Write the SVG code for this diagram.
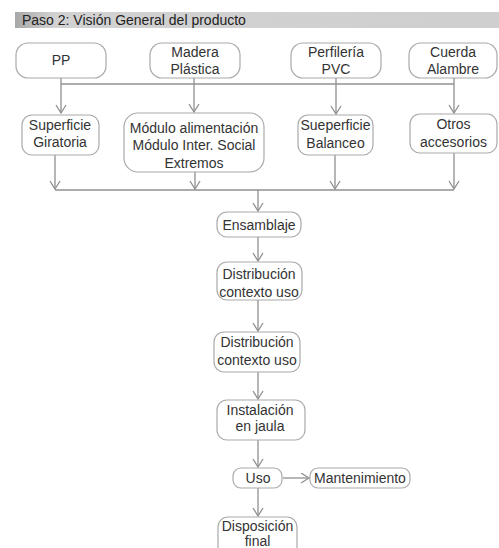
<svg xmlns="http://www.w3.org/2000/svg" width="499" height="548" viewBox="0 0 499 548">
<style>
.box{fill:#fff;stroke:#aaaaaa;stroke-width:1.2}
.t{font-family:"Liberation Sans",Arial,sans-serif;font-size:14px;fill:#333;text-anchor:middle}
.ln{fill:none;stroke:#909090;stroke-width:1.3}
.ar{fill:none;stroke:#909090;stroke-width:1.3;marker-end:url(#ah)}
</style>
<defs>
<linearGradient id="bar" x1="0" y1="0" x2="1" y2="0">
<stop offset="0" stop-color="#a8a8a8"/>
<stop offset="0.08" stop-color="#d2d2d2"/>
<stop offset="1" stop-color="#cfcfcf"/>
</linearGradient>
<marker id="ah" markerUnits="userSpaceOnUse" markerWidth="12" markerHeight="12" refX="9" refY="5.5" orient="auto">
<path d="M1,0.5 L9,5.5 L1,10.5" fill="none" stroke="#909090" stroke-width="1.3"/>
</marker>
</defs>
<rect width="499" height="548" fill="#fff"/>
<g id="title">
<rect x="15" y="12" width="484" height="16" fill="url(#bar)"/>
<text x="22" y="24.5" font-family="Liberation Sans,Arial,sans-serif" font-size="14" fill="#222">Paso 2: Visión General del producto</text>
</g>
<g id="connectors">
<path class="ln" d="M61,84 H454"/>
<path class="ar" d="M61,78 V113"/>
<path class="ar" d="M194,78 V112"/>
<path class="ar" d="M336,78 V114"/>
<path class="ar" d="M454,78 V113"/>
<path class="ln" d="M55,190 H454"/>
<path class="ar" d="M55,155 V189"/>
<path class="ar" d="M195,172 V189"/>
<path class="ar" d="M335,155 V189"/>
<path class="ar" d="M454,153 V189"/>
<path class="ar" d="M258,190 V211"/>
<path class="ar" d="M258,237 V261"/>
<path class="ar" d="M258,300 V331"/>
<path class="ar" d="M258,372 V399"/>
<path class="ar" d="M258,440 V467"/>
<path class="ar" d="M283,478 H309"/>
<path class="ar" d="M258,488 V516"/>
</g>
<g id="n-pp"><rect class="box" x="16" y="43" width="90" height="35" rx="12"/><text class="t" x="61" y="65">PP</text></g>
<g id="n-madera"><rect class="box" x="150" y="43" width="90" height="35" rx="12"/><text class="t" x="195" y="57">Madera</text><text class="t" x="195" y="74">Plástica</text></g>
<g id="n-perfileria"><rect class="box" x="291" y="43" width="90" height="35" rx="12"/><text class="t" x="336" y="57">Perfilería</text><text class="t" x="336" y="74">PVC</text></g>
<g id="n-cuerda"><rect class="box" x="409" y="43" width="88" height="35" rx="12"/><text class="t" x="453" y="57">Cuerda</text><text class="t" x="453" y="74">Alambre</text></g>
<g id="n-giratoria"><rect class="box" x="22" y="115" width="77" height="40" rx="10"/><text class="t" x="60" y="130">Superficie</text><text class="t" x="60" y="147">Giratoria</text></g>
<g id="n-modulo"><rect class="box" x="124" y="113" width="140" height="59" rx="14"/><text class="t" x="194" y="133">Módulo alimentación</text><text class="t" x="194" y="150">Módulo Inter. Social</text><text class="t" x="194" y="168">Extremos</text></g>
<g id="n-balanceo"><rect class="box" x="298" y="115" width="75" height="40" rx="10"/><text class="t" x="335.5" y="130">Sueperficie</text><text class="t" x="335.5" y="148">Balanceo</text></g>
<g id="n-otros"><rect class="box" x="410" y="114" width="87" height="39" rx="10"/><text class="t" x="453.5" y="129">Otros</text><text class="t" x="453.5" y="147">accesorios</text></g>
<g id="n-ensamblaje"><rect class="box" x="217" y="212" width="84" height="25" rx="10"/><text class="t" x="259" y="230">Ensamblaje</text></g>
<g id="n-distrib1"><rect class="box" x="217" y="262" width="85" height="38" rx="10"/><text class="t" x="259" y="279">Distribución</text><text class="t" x="259" y="297">contexto uso</text></g>
<g id="n-distrib2"><rect class="box" x="214" y="332" width="86" height="40" rx="10"/><text class="t" x="257" y="347">Distribución</text><text class="t" x="257" y="365">contexto uso</text></g>
<g id="n-instalacion"><rect class="box" x="217" y="400" width="88" height="40" rx="10"/><text class="t" x="260" y="415">Instalación</text><text class="t" x="260" y="431">en jaula</text></g>
<g id="n-uso"><rect class="box" x="233" y="468" width="49" height="20" rx="8"/><text class="t" x="258" y="483">Uso</text></g>
<g id="n-mantenimiento"><rect class="box" x="310" y="468" width="100" height="20" rx="8"/><text class="t" x="360" y="483">Mantenimiento</text></g>
<g id="n-disposicion"><rect class="box" x="218" y="517" width="79" height="45" rx="10"/><text class="t" x="257.5" y="531">Disposición</text><text class="t" x="257.5" y="546">final</text></g>
</svg>
